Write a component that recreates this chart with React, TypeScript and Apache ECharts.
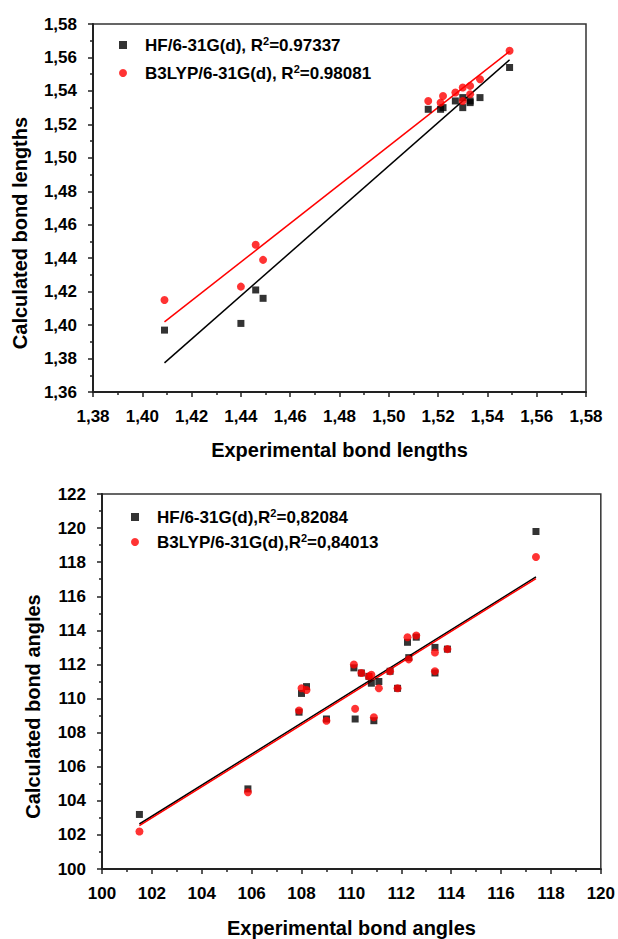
import React, { useEffect, useRef } from "react";
import * as echarts from "echarts";

// ---- Bond lengths (top chart) ----
const lenExp = [1.409, 1.44, 1.446, 1.449, 1.516, 1.521, 1.522, 1.527, 1.53, 1.53, 1.533, 1.533, 1.537, 1.549];
const lenHF = [1.397, 1.401, 1.421, 1.416, 1.529, 1.529, 1.53, 1.534, 1.53, 1.536, 1.533, 1.534, 1.536, 1.554];
const lenB3 = [1.415, 1.423, 1.448, 1.439, 1.534, 1.533, 1.537, 1.539, 1.542, 1.534, 1.543, 1.538, 1.547, 1.564];
const lenFitX = [1.409, 1.549];
const lenFitHF = [1.3774, 1.5586];
const lenFitB3 = [1.4019, 1.5636];

// ---- Bond angles (bottom chart) ----
const angExp = [101.5, 105.85, 107.9, 108.0, 108.2, 109.0, 110.1, 110.15, 110.4, 110.7, 110.8, 110.9, 111.1, 111.55, 111.85, 112.25, 112.3, 112.6, 113.35, 113.35, 113.85, 117.4];
const angHF = [103.2, 104.7, 109.2, 110.3, 110.7, 108.8, 111.8, 108.8, 111.5, 111.3, 110.9, 108.7, 111.0, 111.6, 110.6, 113.3, 112.4, 113.6, 113.0, 111.5, 112.9, 119.8];
const angB3 = [102.2, 104.5, 109.3, 110.6, 110.5, 108.7, 112.0, 109.4, 111.5, 111.3, 111.4, 108.9, 110.6, 111.6, 110.6, 113.6, 112.3, 113.7, 112.7, 111.6, 112.9, 118.3];
const angFitX = [101.5, 117.4];
const angFitHF = [102.64, 117.14];
const angFitB3 = [102.54, 117.04];

const legendText: Record<string, string> = {
  HF_len: "{g|}{a|HF/6-31G(d), R}{s|2}{a|=0.97337}",
  B3_len: "{g|}{a|B3LYP/6-31G(d), R}{s|2}{a|=0.98081}",
  HF_ang: "{g|}{a|HF/6-31G(d),R}{s|2}{a|=0,82084}",
  B3_ang: "{g|}{a|B3LYP/6-31G(d),R}{s|2}{a|=0,84013}",
};

const FONT = "'Liberation Sans', Arial, sans-serif";

const zip = (xs: number[], ys: number[]) => xs.map((x, i) => [x, ys[i]]);

export default function App() {
  const ref = useRef<HTMLDivElement>(null);
  useEffect(() => {
    if (!ref.current) return;
    const chart = echarts.init(ref.current, undefined, { renderer: "svg" });

    const axisCommon = {
      axisLine: { show: true, onZero: false, lineStyle: { color: "#222", width: 2 } },
      axisTick: { show: true, inside: false, length: 5, lineStyle: { color: "#222", width: 1.5 } },
      minorTick: { show: true, splitNumber: 2, length: 3, lineStyle: { color: "#222", width: 1.5 } },
      splitLine: { show: false },
      axisLabel: { color: "#000", fontFamily: FONT, fontWeight: "bold", fontSize: 17, margin: 16, showMinLabel: true, showMaxLabel: true },
      nameLocation: "middle",
      nameTextStyle: { color: "#000", fontFamily: FONT, fontWeight: "bold", fontSize: 20 },
    };
    const yName = { ...axisCommon.nameTextStyle, padding: [0, 50, 0, 0] };
    const comma = (v: number) => v.toFixed(2).replace(".", ",");

    const legendBase = {
      orient: "vertical",
      padding: 0,
      itemWidth: 8,
      itemHeight: 8,
      formatter: (n: string) => legendText[n],
      textStyle: {
        color: "#000",
        fontFamily: FONT,
        fontWeight: "bold",
        fontSize: 17,
        rich: {
          g: { width: 13 },
          a: { fontFamily: FONT, fontWeight: "bold", fontSize: 17, lineHeight: 20, verticalAlign: "middle", color: "#000" },
          s: { fontFamily: FONT, fontWeight: "bold", fontSize: 11, lineHeight: 11, verticalAlign: "top", color: "#000" },
        },
      },
    };

    chart.setOption({
      animation: false,
      backgroundColor: "#fff",
      grid: [
        { left: 93, top: 24, width: 493, height: 368, show: true, borderColor: "#333", borderWidth: 1.5, containLabel: false },
        { left: 102, top: 494, width: 500, height: 376, show: true, borderColor: "#333", borderWidth: 1.5, containLabel: false },
      ],
      xAxis: [
        { ...axisCommon, gridIndex: 0, type: "value", min: 1.38, max: 1.58, interval: 0.02, name: "Experimental bond lengths", nameGap: 48,
          axisLabel: { ...axisCommon.axisLabel, formatter: comma } },
        { ...axisCommon, gridIndex: 1, type: "value", min: 100, max: 120, interval: 2, name: "Experimental bond angles", nameGap: 49 },
      ],
      yAxis: [
        { ...axisCommon, gridIndex: 0, type: "value", min: 1.36, max: 1.58, interval: 0.02, name: "Calculated bond lengths", nameGap: 63,
          nameTextStyle: yName, axisLabel: { ...axisCommon.axisLabel, formatter: comma } },
        { ...axisCommon, gridIndex: 1, type: "value", min: 100, max: 122, interval: 2, name: "Calculated bond angles", nameGap: 59,
          nameTextStyle: yName },
      ],
      legend: [
        { ...legendBase, left: 119, top: 35, data: [{ name: "HF_len", icon: "rect" }] },
        { ...legendBase, left: 119, top: 63, data: [{ name: "B3_len", icon: "circle" }] },
        { ...legendBase, left: 131, top: 507, data: [{ name: "HF_ang", icon: "rect" }] },
        { ...legendBase, left: 131, top: 532, data: [{ name: "B3_ang", icon: "circle" }] },
      ],
      series: [
        { name: "fitHF_len", type: "line", xAxisIndex: 0, yAxisIndex: 0, data: zip(lenFitX, lenFitHF), showSymbol: false, symbol: "none",
          lineStyle: { color: "#000", width: 1.5 }, z: 2 },
        { name: "fitB3_len", type: "line", xAxisIndex: 0, yAxisIndex: 0, data: zip(lenFitX, lenFitB3), showSymbol: false, symbol: "none",
          lineStyle: { color: "#ff0000", width: 1.5 }, z: 2 },
        { name: "HF_len", type: "scatter", xAxisIndex: 0, yAxisIndex: 0, data: zip(lenExp, lenHF), symbol: "rect", symbolSize: 7,
          itemStyle: { color: "#000" }, z: 3 },
        { name: "B3_len", type: "scatter", xAxisIndex: 0, yAxisIndex: 0, data: zip(lenExp, lenB3), symbol: "circle", symbolSize: 8,
          itemStyle: { color: "#ff0000" }, z: 4 },
        { name: "fitHF_ang", type: "line", xAxisIndex: 1, yAxisIndex: 1, data: zip(angFitX, angFitHF), showSymbol: false, symbol: "none",
          lineStyle: { color: "#000", width: 1.5 }, z: 2 },
        { name: "fitB3_ang", type: "line", xAxisIndex: 1, yAxisIndex: 1, data: zip(angFitX, angFitB3), showSymbol: false, symbol: "none",
          lineStyle: { color: "#ff0000", width: 1.5 }, z: 2 },
        { name: "HF_ang", type: "scatter", xAxisIndex: 1, yAxisIndex: 1, data: zip(angExp, angHF), symbol: "rect", symbolSize: 7,
          itemStyle: { color: "#000" }, z: 3 },
        { name: "B3_ang", type: "scatter", xAxisIndex: 1, yAxisIndex: 1, data: zip(angExp, angB3), symbol: "circle", symbolSize: 8,
          itemStyle: { color: "#ff0000" }, z: 4 },
      ],
    });
    return () => chart.dispose();
  }, []);

  return (
    <div
      ref={ref}
      style={{ position: "fixed", left: 0, top: 0, width: 618, height: 939, background: "#fff" }}
    />
  );
}
